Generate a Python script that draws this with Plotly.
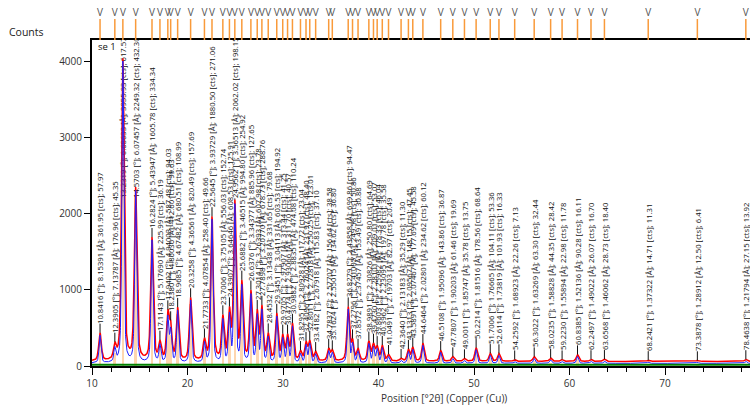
import numpy as np
import plotly.graph_objects as go

# Peak list: position [°2θ], d-spacing [Å], height [cts], last column of the peak table
pos = [10.8416, 12.3905, 13.2319, 14.5703, 16.2824, 17.1143, 17.9402, 18.2380,
       18.9685, 20.3258, 21.7733, 22.5645, 23.7006, 24.3907, 24.9562, 25.6882,
       26.6376, 27.3014, 27.7898, 28.4532, 29.3451, 29.9705, 30.4774, 30.9882,
       31.8295, 32.4096, 32.8011, 33.4182, 34.7837, 35.1624, 36.8279, 37.2796,
       37.8572, 38.9891, 39.4730, 39.8603, 40.3962, 41.0491, 42.3640, 43.1313,
       43.5891, 44.6464, 46.5108, 47.7807, 49.0011, 50.2214, 51.7006, 52.6114,
       54.2592, 56.3022, 58.0235, 59.2230, 60.8385, 62.2497, 63.6568, 68.2421,
       73.3878, 78.4638]
d_spacing = [8.15391, 7.13787, 6.68633, 6.07457, 5.43947, 5.17690, 4.94003, 4.86036,
             4.67482, 4.36561, 4.07854, 3.93729, 3.75105, 3.64646, 3.56513, 3.46515,
             3.34377, 3.26393, 3.20770, 3.13438, 3.04113, 2.97907, 2.93066, 2.88351,
             2.80928, 2.76024, 2.72818, 2.67918, 2.57707, 2.55015, 2.43858, 2.41005,
             2.37457, 2.30826, 2.28101, 2.25982, 2.23095, 2.19703, 2.13183, 2.09567,
             2.07467, 2.02801, 1.95096, 1.90203, 1.85747, 1.81516, 1.76665, 1.73819,
             1.68923, 1.63269, 1.58828, 1.55894, 1.52136, 1.49022, 1.46062, 1.37322,
             1.28912, 1.21794]
height = [361.95, 176.96, 3955.93, 2249.32, 1605.78, 225.99, 587.48, 412.60,
          680.51, 820.49, 258.40, 1880.50, 556.03, 608.53, 2062.02, 994.80,
          885.96, 607.98, 678.73, 331.65, 603.53, 313.44, 311.70, 474.08,
          117.72, 231.97, 250.25, 115.83, 156.64, 134.62, 699.86, 249.58,
          153.49, 250.80, 209.01, 178.33, 197.78, 82.97, 35.29, 148.15,
          177.69, 234.62, 143.86, 61.46, 35.78, 178.56, 104.11, 101.93,
          22.26, 63.30, 44.35, 22.98, 90.28, 26.07, 28.73, 14.71,
          12.50, 27.15]
rel = [57.97, 45.35, 617.57, 432.30, 334.34, 36.19, 94.03, 99.63,
       108.99, 157.69, 49.66, 271.06, 152.74, 125.91, 198.15, 254.92,
       127.65, 23.78, 288.76, 79.68, 194.92, 41.25, 40.57, 110.24,
       23.04, 48.40, 123.01, 37.10, 38.58, 36.80, 94.47, 50.86,
       30.88, 64.69, 53.07, 46.04, 35.58, 20.49, 11.30, 47.45,
       45.58, 60.12, 36.87, 19.69, 13.75, 68.64, 53.36, 16.33,
       7.13, 32.44, 28.42, 11.78, 16.11, 16.70, 18.40, 11.31,
       6.41, 13.92]

# Background levels [cts] of the observed, calculated and baseline traces
bg_obs = 60
bg_calc = 35
bg_base = 18

X_MIN, X_MAX = 10.0, 78.9
Y_MAX = 4280
two_theta = np.arange(X_MIN, X_MAX + 0.005, 0.01)


def profile(fwhm, bg):
    """Sum of pseudo-Voigt peaks built from the peak list."""
    y = np.full_like(two_theta, float(bg))
    hw = fwhm / 2.0
    for p, h in zip(pos, height):
        u = (two_theta - p) / hw
        y += h * (0.5 / (1.0 + u * u) + 0.5 * np.exp(-np.log(2) * u * u))
    return y


y_obs = profile(0.32, bg_obs)
y_calc = profile(0.24, bg_calc)

labels = [f"{p:.4f} [°]; {d:.5f} [Å]; {h:.2f} [cts]; {r:.2f}"
          for p, d, h, r in zip(pos, d_spacing, height, rel)]

# label columns start a little above each peak top, never higher than LABEL_CAP
GAP = 120
LABEL_CAP = 2200
tops = np.interp(pos, two_theta, np.maximum(y_obs, y_calc))
label_base = [min(t + GAP, LABEL_CAP) for t in tops]

lead_x, lead_y = [], []
for p, t, b in zip(pos, tops, label_base):
    if b > t:
        lead_x += [p, p, None]
        lead_y += [t, b, None]

fig = go.Figure()

# reference sticks under the profiles
fig.add_trace(go.Bar(
    x=pos, y=height, width=0.28,
    marker=dict(color="rgba(253,180,110,0.55)", line=dict(width=0)),
    hoverinfo="skip", showlegend=False))

# rotated peak labels, clipped by the plotting area
fig.add_trace(go.Bar(
    x=pos, base=label_base, y=[9000] * len(pos), width=0.3,
    marker=dict(color="rgba(0,0,0,0)", line=dict(width=0)),
    text=labels, textposition="inside", insidetextanchor="start",
    textangle=-90, constraintext="none", cliponaxis=True,
    textfont=dict(family="Open Sans", size=7.7, color="#111"),
    insidetextfont=dict(family="Open Sans", size=7.7, color="#111"),
    hoverinfo="skip", showlegend=False))

fig.add_trace(go.Scatter(
    x=two_theta, y=y_obs, mode="lines",
    line=dict(color="#FF0000", width=1.5), showlegend=False))
fig.add_trace(go.Scatter(
    x=two_theta, y=y_calc, mode="lines",
    line=dict(color="#2020FF", width=1), showlegend=False))
fig.add_trace(go.Scatter(
    x=[X_MIN, X_MAX], y=[bg_base, bg_base], mode="lines",
    line=dict(color="#008000", width=2), showlegend=False))
fig.add_trace(go.Scatter(
    x=lead_x, y=lead_y, mode="lines",
    line=dict(color="#111111", width=1), showlegend=False))

# peak markers in the strip above the plot
mk_x, mk_y = [], []
for p in pos:
    mk_x += [p, p, None]
    mk_y += [0, 21, None]
fig.add_trace(go.Scatter(
    x=mk_x, y=mk_y, mode="lines", yaxis="y2",
    line=dict(color="#F99A3A", width=1.5), showlegend=False))
fig.add_trace(go.Scatter(
    x=pos, y=[27] * len(pos), mode="text", text=["V"] * len(pos), yaxis="y2",
    textfont=dict(family="Open Sans", size=10, color="#555555"),
    cliponaxis=False, showlegend=False))

MAIN_TOP = 1 - 32 / 358

fig.update_layout(
    width=750, height=406,
    margin=dict(l=92, r=0, t=8, b=40),
    paper_bgcolor="white", plot_bgcolor="white",
    barmode="overlay", bargap=0,
    font=dict(family="Open Sans", size=10, color="#222"),
    xaxis=dict(range=[X_MIN, X_MAX], tick0=0, dtick=10,
               ticks="outside", ticklen=7, tickwidth=1, tickcolor="#000",
               minor=dict(tick0=0, dtick=2, ticks="outside", ticklen=4,
                          tickwidth=1, tickcolor="#000", showgrid=False),
               showline=True, linewidth=2, linecolor="#000", mirror=True,
               showgrid=False, zeroline=False,
               tickfont=dict(family="Open Sans", size=10, color="#333")),
    yaxis=dict(domain=[0, MAIN_TOP], range=[0, Y_MAX], dtick=1000,
               ticks="outside", ticklen=6, tickwidth=1, tickcolor="#000",
               showline=True, linewidth=2, linecolor="#000",
               showgrid=False, zeroline=False,
               tickfont=dict(family="Open Sans", size=10, color="#333")),
    yaxis2=dict(domain=[MAIN_TOP, 1], range=[0, 32], visible=False,
                anchor="x"),
    annotations=[
        dict(text="Counts", xref="paper", yref="paper",
             x=-0.129, y=1 - 24 / 358, xanchor="left", yanchor="middle",
             showarrow=False, font=dict(family="Open Sans", size=10.5, color="#222")),
        dict(text="se 1", xref="paper", yref="paper",
             x=0.006, y=1 - 39 / 358, xanchor="left", yanchor="middle",
             showarrow=False, font=dict(family="Open Sans", size=9.5, color="#111")),
        dict(text="Position [°2θ] (Copper (Cu))", xref="paper", yref="paper",
             x=0.535, y=1 - 390 / 358, xanchor="center", yanchor="middle",
             borderpad=0,
             showarrow=False, font=dict(family="Open Sans", size=10, color="#333")),
    ],
)

fig.write_html("out.html")
